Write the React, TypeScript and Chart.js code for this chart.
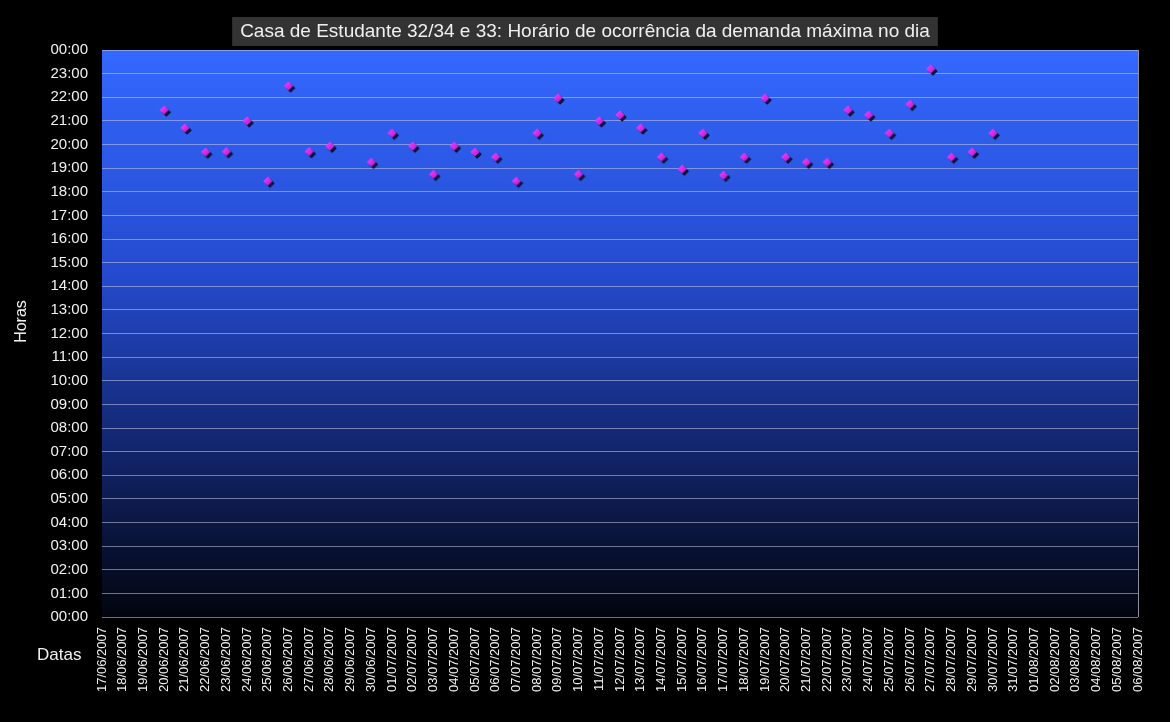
import React, { useEffect, useRef } from "react";
import { Chart, registerables } from "chart.js";

Chart.register(...registerables);

const TITLE = "Casa de Estudante 32/34 e 33: Horário de ocorrência da demanda máxima no dia";
const Y_TITLE = "Horas";
const X_TITLE = "Datas";

const dates = [
  "17/06/2007", "18/06/2007", "19/06/2007", "20/06/2007", "21/06/2007", "22/06/2007",
  "23/06/2007", "24/06/2007", "25/06/2007", "26/06/2007", "27/06/2007", "28/06/2007",
  "29/06/2007", "30/06/2007", "01/07/2007", "02/07/2007", "03/07/2007", "04/07/2007",
  "05/07/2007", "06/07/2007", "07/07/2007", "08/07/2007", "09/07/2007", "10/07/2007",
  "11/07/2007", "12/07/2007", "13/07/2007", "14/07/2007", "15/07/2007", "16/07/2007",
  "17/07/2007", "18/07/2007", "19/07/2007", "20/07/2007", "21/07/2007", "22/07/2007",
  "23/07/2007", "24/07/2007", "25/07/2007", "26/07/2007", "27/07/2007", "28/07/2007",
  "29/07/2007", "30/07/2007", "31/07/2007", "01/08/2007", "02/08/2007", "03/08/2007",
  "04/08/2007", "05/08/2007", "06/08/2007",
];

// Hour of the day (decimal hours) at which the daily peak demand occurred
const peakHour: (number | null)[] = [
  null, null, null, 21.46, 20.7, 19.68,
  19.7, 21.0, 18.45, 22.48, 19.7, 19.93,
  null, 19.25, 20.48, 19.93, 18.74, 19.93,
  19.68, 19.47, 18.45, 20.48, 21.97, 18.74,
  21.0, 21.25, 20.7, 19.47, 18.96, 20.48,
  18.7, 19.47, 21.97, 19.47, 19.25, 19.25,
  21.46, 21.25, 20.48, 21.7, 23.2, 19.47,
  19.68, 20.48, null, null, null, null,
  null, null, null,
];

const Y_MIN = 0;
const Y_MAX = 24;

const FONT = "'Liberation Sans', Arial, sans-serif";

function makeMarker(): HTMLCanvasElement {
  const c = document.createElement("canvas");
  c.width = 18;
  c.height = 18;
  const g = c.getContext("2d")!;
  const diamond = (cx: number, cy: number, r: number, fill: string | CanvasGradient) => {
    g.beginPath();
    g.moveTo(cx, cy - r);
    g.lineTo(cx + r, cy);
    g.lineTo(cx, cy + r);
    g.lineTo(cx - r, cy);
    g.closePath();
    g.fillStyle = fill;
    g.fill();
  };
  diamond(11.2, 11.2, 4.6, "#0a0a34");
  const grad = g.createLinearGradient(4, 4, 14, 14);
  grad.addColorStop(0, "#ff48ff");
  grad.addColorStop(1, "#b010d0");
  diamond(9, 9, 4.6, grad);
  return c;
}

const backdrop = {
  id: "backdrop",
  beforeDraw(chart: any) {
    const { ctx, chartArea, width, height } = chart;
    ctx.save();
    ctx.fillStyle = "#000000";
    ctx.fillRect(0, 0, width, height);
    const gr = ctx.createLinearGradient(0, chartArea.top, 0, chartArea.bottom);
    gr.addColorStop(0, "rgb(52,104,255)");
    gr.addColorStop(0.4, "rgb(36,74,205)");
    gr.addColorStop(0.7, "rgb(18,38,110)");
    gr.addColorStop(1, "rgb(2,4,14)");
    ctx.fillStyle = gr;
    ctx.fillRect(chartArea.left, chartArea.top, chartArea.right - chartArea.left, chartArea.bottom - chartArea.top);
    ctx.restore();
  },
  afterDraw(chart: any) {
    const { ctx, chartArea, width } = chart;
    ctx.save();
    // Title box
    ctx.font = `19px ${FONT}`;
    const tw = ctx.measureText(TITLE).width;
    const cx = width / 2;
    const bw = tw + 16;
    ctx.fillStyle = "#333333";
    ctx.fillRect(cx - bw / 2, 17, bw, 29);
    ctx.fillStyle = "#f0f0f0";
    ctx.textAlign = "center";
    ctx.textBaseline = "middle";
    ctx.fillText(TITLE, cx, 32);

    // Axis titles
    ctx.font = `16px ${FONT}`;
    ctx.save();
    ctx.translate(22, (chartArea.top + chartArea.bottom) / 2 - 12);
    ctx.rotate(-Math.PI / 2);
    ctx.fillText(Y_TITLE, 0, 0);
    ctx.restore();
    ctx.font = `17px ${FONT}`;
    ctx.textAlign = "left";
    ctx.fillText(X_TITLE, 37, 655);

    // Right edge of the plot
    ctx.strokeStyle = "rgba(190,190,210,0.75)";
    ctx.lineWidth = 1;
    ctx.beginPath();
    ctx.moveTo(Math.round(chartArea.right) + 0.5, chartArea.top);
    ctx.lineTo(Math.round(chartArea.right) + 0.5, chartArea.bottom);
    ctx.stroke();
    ctx.restore();
  },
};

export default function App() {
  const ref = useRef<HTMLCanvasElement | null>(null);

  useEffect(() => {
    document.body.style.margin = "0";
    document.body.style.background = "#ffffff";
    const marker = makeMarker();
    const chart = new Chart(ref.current!, {
      type: "line",
      data: {
        labels: dates,
        datasets: [
          {
            data: peakHour,
            showLine: false,
            pointStyle: marker as any,
            pointRadius: 6,
          },
        ],
      },
      options: {
        animation: false,
        responsive: false,
        layout: { padding: { top: 50, right: 32, left: 0, bottom: 0 } },
        plugins: { legend: { display: false }, tooltip: { enabled: false } },
        scales: {
          x: {
            type: "category",
            offset: false,
            grid: { display: false, drawTicks: false },
            border: { display: false },
            ticks: {
              color: "#f2f2f2",
              font: { family: FONT, size: 13 },
              minRotation: 90,
              maxRotation: 90,
              autoSkip: false,
              padding: 10,
            },
            afterFit(scale: any) {
              scale.height = 105;
            },
          },
          y: {
            min: Y_MIN,
            max: Y_MAX,
            grid: { color: "rgba(200,200,225,0.55)", lineWidth: 1, drawTicks: false },
            border: { display: false },
            ticks: {
              stepSize: 1,
              color: "#f2f2f2",
              font: { family: FONT, size: 15 },
              padding: 14,
              callback: (v: any) => String(Number(v) % 24).padStart(2, "0") + ":00",
            },
            afterFit(scale: any) {
              scale.width = 102;
            },
          },
        },
      },
      plugins: [backdrop],
    });
    return () => chart.destroy();
  }, []);

  return (
    <div style={{ width: 1170, height: 722, background: "#000" }}>
      <canvas ref={ref} width={1170} height={722} style={{ display: "block" }} />
    </div>
  );
}
